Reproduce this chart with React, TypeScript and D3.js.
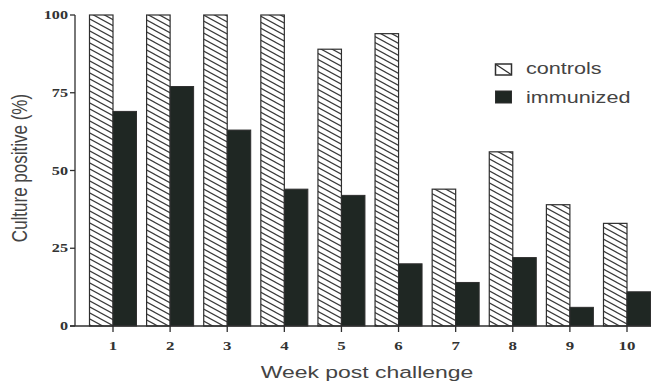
import React from "react";
import * as d3 from "d3";

const weeks = [1, 2, 3, 4, 5, 6, 7, 8, 9, 10];
const controls = [100, 100, 100, 100, 89, 94, 44, 56, 39, 33];
const immunized = [69, 77, 63, 44, 42, 20, 14, 22, 6, 11];
const yTicks = [0, 25, 50, 75, 100];
const seriesNames = ["controls", "immunized"];

const W = 651;
const H = 381;
const SX = 1.35;

export default function App() {
  const x = d3.scalePoint<number>().domain(weeks).range([113, 627]);
  const y = d3.scaleLinear().domain([0, 100]).range([326, 15]);
  const bw = 23.5;
  const ink = "#2f2f2f";
  const dark = "#1f2723";

  return (
    <svg
      width={W}
      height={H}
      style={{ position: "absolute", left: 0, top: 0, background: "#fff" }}
    >
      <defs>
        <pattern id="hatch" patternUnits="userSpaceOnUse" width={11} height={6}>
          <path
            d="M-2,-1.09 L13,7.09 M9,-1.09 L13,1.09 M-2,4.91 L2,7.09"
            stroke="#3a3a3a"
            strokeWidth={1.2}
            fill="none"
          />
        </pattern>
      </defs>

      {/* bars */}
      {weeks.map((w, i) => (
        <g key={w}>
          <rect
            x={(x(w) as number) - bw}
            y={y(controls[i])}
            width={bw}
            height={y(0) - y(controls[i])}
            fill="url(#hatch)"
            stroke={ink}
            strokeWidth={1.2}
          />
          <rect
            x={x(w) as number}
            y={y(immunized[i])}
            width={bw}
            height={y(0) - y(immunized[i])}
            fill={dark}
            stroke={ink}
            strokeWidth={1}
          />
        </g>
      ))}

      {/* y axis */}
      <line x1={75} x2={75} y1={y(100)} y2={y(0)} stroke={ink} strokeWidth={1.3} />
      {yTicks.map((t) => (
        <g key={t}>
          <line x1={70} x2={75} y1={y(t)} y2={y(t)} stroke={ink} strokeWidth={1.3} />
          <g transform={`translate(68,${y(t) + 4}) scale(${SX},1)`}>
            <text
              textAnchor="end"
              fontFamily="Liberation Serif, serif"
              fontWeight="bold"
              fontSize={12}
              fill="#333"
            >
              {t}
            </text>
          </g>
        </g>
      ))}

      {/* x axis */}
      <line x1={70} x2={W} y1={y(0)} y2={y(0)} stroke={ink} strokeWidth={1.3} />
      {weeks.map((w) => (
        <g key={w}>
          <line
            x1={x(w) as number}
            x2={x(w) as number}
            y1={y(0)}
            y2={y(0) + 6}
            stroke={ink}
            strokeWidth={1.3}
          />
          <g transform={`translate(${x(w)},350) scale(${SX},1)`}>
            <text
              textAnchor="middle"
              fontFamily="Liberation Serif, serif"
              fontWeight="bold"
              fontSize={12.5}
              fill="#333"
            >
              {w}
            </text>
          </g>
        </g>
      ))}

      {/* axis titles */}
      <g transform={`translate(367,378) scale(${SX},1)`}>
        <text
          textAnchor="middle"
          fontFamily="Liberation Sans, Arial, sans-serif"
          fontSize={17}
          fill="#444"
        >
          Week post challenge
        </text>
      </g>
      <g transform={`translate(27,168) scale(${SX},1) rotate(-90)`}>
        <text
          textAnchor="middle"
          fontFamily="Liberation Sans, Arial, sans-serif"
          fontSize={17}
          fill="#444"
        >
          Culture positive (%)
        </text>
      </g>

      {/* legend */}
      <rect x={495.5} y={64} width={16} height={11} fill="#fff" stroke={ink} strokeWidth={1.5} />
      <line x1={496} y1={64.5} x2={511} y2={74.5} stroke={ink} strokeWidth={1.3} />
      <rect x={495.5} y={91} width={16} height={12} fill={dark} stroke={ink} strokeWidth={1} />
      <g transform={`translate(526,74) scale(${SX},1)`}>
        <text fontFamily="Liberation Sans, Arial, sans-serif" fontSize={16} fill="#444">
          {seriesNames[0]}
        </text>
      </g>
      <g transform={`translate(526,103) scale(${SX},1)`}>
        <text fontFamily="Liberation Sans, Arial, sans-serif" fontSize={16} fill="#444">
          {seriesNames[1]}
        </text>
      </g>
    </svg>
  );
}
